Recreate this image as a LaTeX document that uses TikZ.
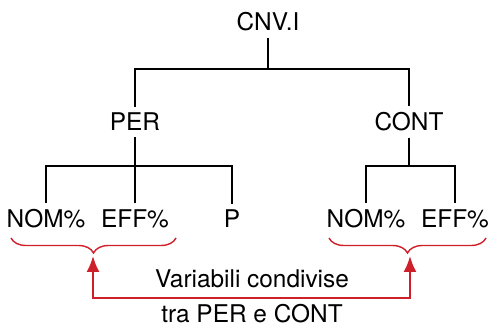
\documentclass[tikz,border=0pt]{standalone}
\usepackage{fontspec}
\setmainfont{TeX Gyre Heros}
\usepackage{tikz}
\usetikzlibrary{arrows.meta,decorations.pathreplacing}
\definecolor{RossoGraffa}{RGB}{206,32,41}

\begin{document}
\begin{tikzpicture}[x=0.5pt,y=-0.5pt,>={Latex[length=8pt,width=6.5pt]},
  voce/.style={font=\fontsize{12.2}{14}\selectfont,inner sep=3pt},
  ramo/.style={line width=1pt,black},
  graffa/.style={RossoGraffa,line width=0.7pt,decorate,
    decoration={brace,mirror,amplitude=7.5pt}},
  freccia/.style={RossoGraffa,line width=1pt}]
  \useasboundingbox (0,0) rectangle (488,326);
  % albero
  \node[voce] (cnv) at (268,22) {CNV.I};
  \node[voce] (per) at (135,122) {PER};
  \node[voce] (cont) at (409,122) {CONT};
  \node[voce] (nomA) at (46,219) {NOM\%};
  \node[voce] (effA) at (135,219) {EFF\%};
  \node[voce] (p) at (232,219) {P};
  \node[voce] (nomB) at (366,219) {NOM\%};
  \node[voce] (effB) at (455,219) {EFF\%};
  \coordinate (nodo1) at (268,69);
  \coordinate (nodo2) at (135,166);
  \coordinate (nodo3) at (409,166);
  \draw[ramo] (cnv) -- (nodo1);
  \draw[ramo] (per) |- (nodo1) -| (cont);
  \draw[ramo] (per) -- (nodo2);
  \draw[ramo] (nomA) |- (nodo2) -| (p);
  \draw[ramo] (effA) -- (nodo2);
  \draw[ramo] (cont) -- (nodo3);
  \draw[ramo] (nomB) |- (nodo3) -| (effB);
  % graffe e freccia
  \draw[graffa] (11,238) -- (176,238);
  \draw[graffa] (329,238) -- (486,238);
  \coordinate (puntaA) at (93,256);
  \coordinate (puntaB) at (410,256);
  \coordinate (base) at (252,298);
  \draw[freccia,<->] (puntaA) |- (base) -| (puntaB);
  \node[voce] (testoA) at (252,279) {Variabili condivise};
  \node[voce] (testoB) at (252,314) {tra PER e CONT};
\end{tikzpicture}
\end{document}
